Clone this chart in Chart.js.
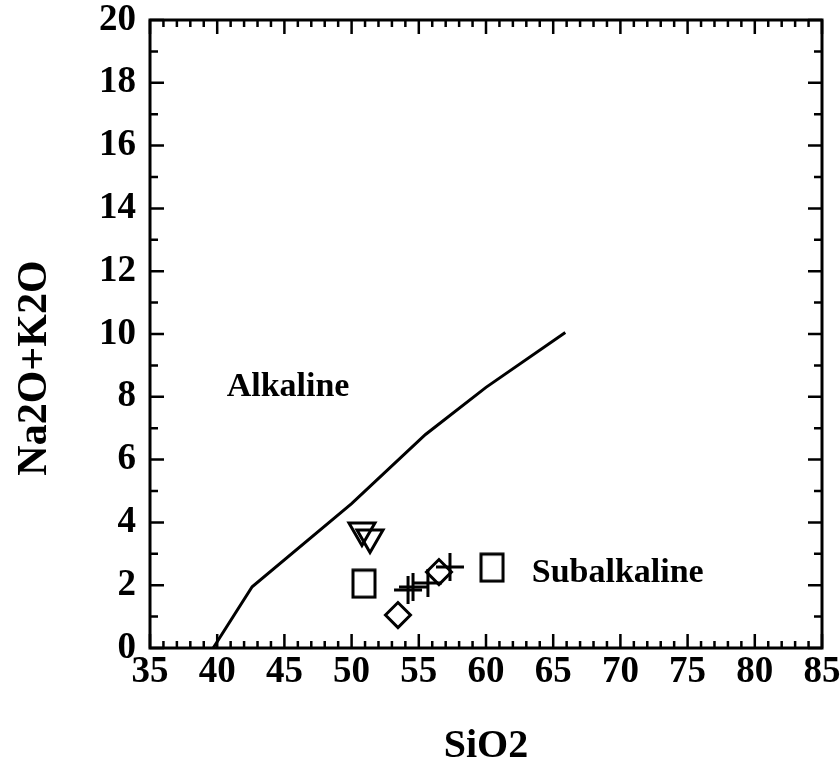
<!DOCTYPE html>
<html>
<head>
<meta charset="utf-8">
<script src="https://cdn.jsdelivr.net/npm/chart.js@4/dist/chart.umd.min.js"></script>
<style>
  html, body { margin: 0; padding: 0; background: #fff; }
  #wrap { width: 840px; height: 781px; }
</style>
</head>
<body>
<div id="wrap"><canvas id="tas"></canvas></div>
<script>
'use strict'
// Alkaline / subalkaline dividing line
const boundaryX = [39.7, 42.6, 50.0, 55.5, 60.0, 65.9];
const boundaryY = [0, 1.95, 4.6, 6.8, 8.3, 10.05];

// samples
const triX = [50.77, 51.37];
const triY = [3.74, 3.52];
const squareX = [50.92, 60.45];
const squareY = [2.05, 2.56];
const diamondX = [53.45, 56.5];
const diamondY = [1.05, 2.42];
const crossX = [54.2, 54.57, 55.68, 57.32];
const crossY = [1.85, 1.94, 2.07, 2.58];

const xTicks = [35, 40, 45, 50, 55, 60, 65, 70, 75, 80, 85];
const yTicks = [0, 2, 4, 6, 8, 10, 12, 14, 16, 18, 20];

const fontFamily = "'Liberation Serif', 'Times New Roman', serif";

function toPoints(xs, ys) {
    return xs.map(function (x, i) { return { x: x, y: ys[i] }; });
}

// tall open rectangle used for the square symbols
function makeBox(w, h) {
    let c = document.createElement('canvas');
    c.width = w + 4;
    c.height = h + 4;
    let g = c.getContext('2d');
    g.strokeStyle = '#000';
    g.lineWidth = 3;
    g.strokeRect(2, 2, w, h);
    return c;
}

let framePlugin = {
    id: 'frame',
    afterDraw: function (chart) {
        let ctx = chart.ctx;
        let a = chart.chartArea;
        let xs = chart.scales.x;
        let ys = chart.scales.y;
        ctx.save();
        ctx.strokeStyle = '#000';
        ctx.lineWidth = 2.5;
        // inward ticks on all four sides
        for (let v = 35; v <= 85; v++) {
            let px = xs.getPixelForValue(v);
            let len = v % 5 === 0 ? 14 : 7;
            ctx.beginPath();
            ctx.moveTo(px, a.bottom);
            ctx.lineTo(px, a.bottom - len);
            ctx.moveTo(px, a.top);
            ctx.lineTo(px, a.top + len);
            ctx.stroke();
        }
        for (let v = 0; v <= 20; v++) {
            let py = ys.getPixelForValue(v);
            let len = v % 2 === 0 ? 14 : 8;
            ctx.beginPath();
            ctx.moveTo(a.left, py);
            ctx.lineTo(a.left + len, py);
            ctx.moveTo(a.right, py);
            ctx.lineTo(a.right - len, py);
            ctx.stroke();
        }
        ctx.lineWidth = 3;
        ctx.strokeRect(a.left, a.top, a.right - a.left, a.bottom - a.top);

        // field names
        ctx.fillStyle = '#000';
        ctx.font = 'bold 34px ' + fontFamily;
        ctx.textAlign = 'center';
        ctx.textBaseline = 'middle';
        ctx.fillText('Alkaline', xs.getPixelForValue(45.27), ys.getPixelForValue(8.31));
        ctx.fillText('Subalkaline', xs.getPixelForValue(69.8), ys.getPixelForValue(2.39));

        // y axis title
        ctx.translate(35, 368);
        ctx.rotate(-Math.PI / 2);
        ctx.font = 'bold 42px ' + fontFamily;
        ctx.fillText('Na2O+K2O', 0, 0);
        ctx.restore();
    }
};

let chart = new Chart('tas', {
    type: 'scatter',
    data: {
        datasets: [
            {
                label: 'boundary',
                data: toPoints(boundaryX, boundaryY),
                showLine: true,
                borderColor: '#000',
                borderWidth: 3,
                pointRadius: 0,
                fill: false,
            },
            {
                label: 'triangles',
                data: toPoints(triX, triY),
                pointStyle: 'triangle',
                rotation: 180,
                radius: 15,
                borderColor: '#000',
                backgroundColor: 'rgba(0,0,0,0)',
                borderWidth: 3,
            },
            {
                label: 'squares',
                data: toPoints(squareX, squareY),
                pointStyle: makeBox(22, 27),
                borderColor: '#000',
                backgroundColor: 'rgba(0,0,0,0)',
            },
            {
                label: 'diamonds',
                data: toPoints(diamondX, diamondY),
                pointStyle: 'rectRot',
                radius: 12.5,
                borderColor: '#000',
                backgroundColor: 'rgba(0,0,0,0)',
                borderWidth: 3,
            },
            {
                label: 'crosses',
                data: toPoints(crossX, crossY),
                pointStyle: 'cross',
                radius: 14,
                borderColor: '#000',
                borderWidth: 3,
            },
        ],
    },
    options: {
        responsive: true,
        maintainAspectRatio: false,
        animation: false,
        layout: { padding: { top: 20, right: 18, left: 0, bottom: 0 } },
        plugins: {
            legend: { display: false },
            tooltip: { enabled: false },
        },
        scales: {
            x: {
                type: 'linear',
                min: 35,
                max: 85,
                afterBuildTicks: function (scale) {
                    scale.ticks = xTicks.map(function (v) { return { value: v }; });
                },
                afterFit: function (scale) {
                    scale.height = 133;
                    scale.paddingLeft = 0;
                    scale.paddingRight = 0;
                },
                grid: { display: false, drawTicks: false },
                border: { display: false },
                ticks: {
                    color: '#000',
                    padding: 2,
                    maxRotation: 0,
                    autoSkip: false,
                    font: { family: fontFamily, size: 37, weight: 'bold' },
                },
                title: {
                    display: true,
                    text: 'SiO2',
                    color: '#000',
                    padding: { top: 0, bottom: 10 },
                    font: { family: fontFamily, size: 40, weight: 'bold' },
                },
            },
            y: {
                type: 'linear',
                min: 0,
                max: 20,
                afterBuildTicks: function (scale) {
                    scale.ticks = yTicks.map(function (v) { return { value: v }; });
                },
                afterFit: function (scale) {
                    scale.width = 150;
                    scale.paddingTop = 0;
                    scale.paddingBottom = 0;
                },
                grid: { display: false, drawTicks: false },
                border: { display: false },
                ticks: {
                    color: '#000',
                    padding: 14,
                    autoSkip: false,
                    font: { family: fontFamily, size: 37, weight: 'bold' },
                },
            },
        },
    },
    plugins: [framePlugin],
});
</script>
</body>
</html>
